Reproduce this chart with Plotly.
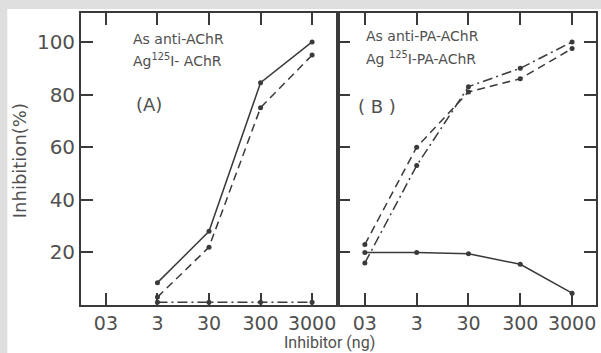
import plotly.graph_objects as go

# Inhibitor amounts (ng) and their axis labels
doses = [0.3, 3, 30, 300, 3000]
dose_labels = ["03", "3", "30", "300", "3000"]

# Panel A: anti-AChR antiserum, 125I-AChR antigen
a_doses = [3, 30, 300, 3000]
a_solid = [8.5, 28, 84.5, 100]
a_dashed = [3, 22, 75, 95]
a_dashdot = [1, 1, 1, 1]

# Panel B: anti-PA-AChR antiserum, 125I-PA-AChR antigen
b_doses = [0.3, 3, 30, 300, 3000]
b_solid = [20, 20, 19.5, 15.5, 4.5]
b_dashed = [23, 60, 81, 86, 97.5]
b_dashdot = [16, 53, 83, 90, 100]

y_ticks = [20, 40, 60, 80, 100]

INK = "#3a3a3a"
TXT = "#505050"
FONT = "DejaVu Sans"

fig = go.Figure()


def add_series(x, y, dash, xa, ya):
    fig.add_trace(go.Scatter(
        x=x, y=y, mode="lines+markers",
        line=dict(color=INK, width=1.5, dash=dash),
        marker=dict(color=INK, size=5),
        xaxis=xa, yaxis=ya, showlegend=False, hoverinfo="skip"))


add_series(a_doses, a_solid, "solid", "x", "y")
add_series(a_doses, a_dashed, "8px,5px", "x", "y")
add_series(a_doses, a_dashdot, "10px,4px,2px,4px", "x", "y")

add_series(b_doses, b_solid, "solid", "x2", "y2")
add_series(b_doses, b_dashed, "8px,5px", "x2", "y2")
add_series(b_doses, b_dashdot, "10px,4px,2px,4px", "x2", "y2")

xcommon = dict(type="log", tickmode="array", tickvals=doses, ticktext=dose_labels,
               ticks="inside", ticklen=12, tickwidth=1.5, tickcolor=INK,
               showline=True, linecolor=INK, linewidth=1.8, mirror="ticks",
               showgrid=False, zeroline=False,
               tickfont=dict(family=FONT, size=19, color=TXT))

fig.update_layout(
    width=601, height=353,
    margin=dict(l=81, r=3, t=13, b=48),
    paper_bgcolor="white", plot_bgcolor="white",
    xaxis=dict(domain=[0, 0.499], range=[-1.006, 3.979], anchor="y", **xcommon),
    xaxis2=dict(domain=[0.499, 1], range=[-1.042, 3.939], anchor="y2", **xcommon),
    yaxis=dict(range=[0, 111], anchor="x", tickmode="array", tickvals=y_ticks,
               ticks="inside", ticklen=12, tickwidth=1.5, tickcolor=INK,
               showline=True, linecolor=INK, linewidth=1.8, mirror=True,
               showgrid=False, zeroline=False,
               tickfont=dict(family=FONT, size=20, color=TXT)),
    yaxis2=dict(range=[0, 111], anchor="x2", tickmode="array", tickvals=y_ticks,
                showticklabels=False,
                ticks="inside", ticklen=12, tickwidth=1.5, tickcolor=INK,
                showline=True, linecolor=INK, linewidth=1.8, mirror="ticks",
                showgrid=False, zeroline=False),
)

# light grey page border at the left and top edges, white elsewhere
fig.add_shape(type="rect", xref="paper", yref="paper",
              x0=-0.1431, x1=1.05, y0=-0.25, y1=1.0137,
              fillcolor="white", line_width=0, layer="below")
fig.add_shape(type="rect", xref="paper", yref="paper",
              x0=-0.17, x1=-0.1431, y0=-0.25, y1=1.06,
              fillcolor="#dedede", line_width=0, layer="below")
fig.add_shape(type="rect", xref="paper", yref="paper",
              x0=-0.17, x1=1.05, y0=1.0137, y1=1.06,
              fillcolor="#dedede", line_width=0, layer="below")


def px_x(px):
    return (px - 81) / 517


def px_y(py):
    return (305 - py) / 292


def note(text, x, y, size, anchor="left"):
    fig.add_annotation(text=text, xref="paper", yref="paper",
                       x=px_x(x), y=px_y(y), xanchor=anchor, yanchor="middle",
                       showarrow=False,
                       font=dict(family=FONT, size=size, color=TXT))


note("As anti-AChR", 131, 39, 14)
note("Ag<sup>125</sup>I- AChR", 131, 60, 14)
note("(A)", 134, 104, 18)

note("As anti-PA-AChR", 365, 36, 14)
note("Ag <sup>125</sup>I-PA-AChR", 365, 58, 14)
note("( B )", 357, 106, 18)

# axis titles
fig.add_annotation(text="Inhibition(%)", xref="paper", yref="paper",
                   x=px_x(19), y=px_y(161), textangle=-90,
                   xanchor="center", yanchor="middle", showarrow=False,
                   font=dict(family=FONT, size=18, color=TXT))
fig.add_annotation(text="Inhibitor (ng)", xref="paper", yref="paper",
                   x=px_x(330), y=px_y(342),
                   xanchor="center", yanchor="middle", showarrow=False,
                   font=dict(family="Roboto", size=16, color=TXT))

fig.write_html("out.html")
